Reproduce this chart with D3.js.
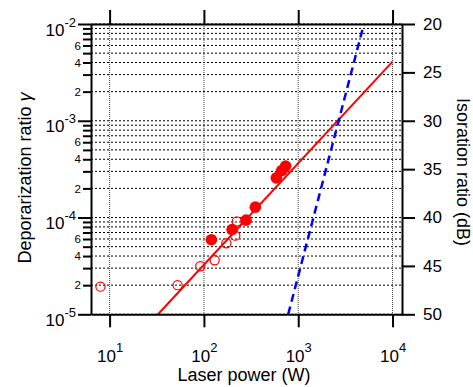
<!DOCTYPE html>
<html>
<head>
<meta charset="utf-8">
<script src="https://cdn.jsdelivr.net/npm/d3@7"></script>
<style>
  body { margin: 0; background: #fff; }
  svg { font-family: "Liberation Sans", Arial, sans-serif; }
</style>
</head>
<body>
<svg id="chart"></svg>
<script>
// Measured data (laser power in W, depolarization ratio)
const openPower = [8, 52.6, 91.6, 130, 173, 215, 224];
const openRatio = [1.93e-5, 2.0e-5, 3.14e-5, 3.62e-5, 5.42e-5, 6.5e-5, 9.1e-5];
const filledPower = [120, 199, 280, 351, 586, 667, 735];
const filledRatio = [5.9e-5, 7.5e-5, 9.4e-5, 1.28e-4, 2.57e-4, 3.05e-4, 3.41e-4];

// Fit line (red) and model line (blue dashed)
const fitPower = [32.6, 10000];
const fitRatio = [1e-5, 4.09e-3];
const modelPower = [783, 4970];
const modelRatio = [1e-5, 1e-2];

// Tick values
const xMajor = [10, 100, 1000, 10000];
const yDecades = [-5, -4, -3, -2];
const yMinorLabels = [2, 4, 6];
const dbTicks = [20, 25, 30, 35, 40, 45, 50];

const width = 473;
const height = 387;
const plotLeft = 91, plotRight = 402, plotTop = 24, plotBottom = 314.3;

const svg = d3.select("#chart").attr("width", width).attr("height", height);

const x = d3.scaleLog().domain([6.35, 12600]).range([plotLeft, plotRight]);
const y = d3.scaleLog().domain([1e-5, 1e-2]).range([plotBottom, plotTop]);
const yDb = d3.scaleLinear().domain([20, 50]).range([plotTop, plotBottom]);

// all y ticks 1..9 x decade
const yTicks = [];
yDecades.forEach((e) => {
  for (let k = 1; k <= 9; k++) {
    const v = k * Math.pow(10, e);
    if (v <= 1.0001e-2) yTicks.push(v);
  }
});
const isMajor = (v) => Math.abs(Math.log10(v) - Math.round(Math.log10(v))) < 1e-6;
const mantissa = (v) => Math.round(v / Math.pow(10, Math.floor(Math.log10(v) + 1e-9)));

// Grid
const grid = svg.append("g");
grid
  .selectAll("line.h")
  .data(yTicks)
  .join("line")
  .attr("class", "h")
  .attr("x1", plotLeft)
  .attr("x2", plotRight)
  .attr("y1", (d) => y(d))
  .attr("y2", (d) => y(d))
  .attr("stroke", "#000")
  .attr("stroke-width", 1)
  .attr("stroke-dasharray", "2,2");

grid
  .selectAll("line.v")
  .data(xMajor)
  .join("line")
  .attr("class", "v")
  .attr("x1", (d) => x(d))
  .attr("x2", (d) => x(d))
  .attr("y1", plotTop)
  .attr("y2", plotBottom)
  .attr("stroke", "#444")
  .attr("stroke-width", 1)
  .attr("stroke-dasharray", "1,1");

// Lines
const line = d3
  .line()
  .x((d) => x(d[0]))
  .y((d) => y(d[1]));

svg
  .append("path")
  .datum(d3.zip(fitPower, fitRatio))
  .attr("d", line)
  .attr("fill", "none")
  .attr("stroke", "#f00")
  .attr("stroke-width", 2);

svg
  .append("path")
  .datum(d3.zip(modelPower, modelRatio))
  .attr("d", line)
  .attr("fill", "none")
  .attr("stroke", "#00f")
  .attr("stroke-width", 2.5)
  .attr("stroke-dasharray", "8,5");

// Points
svg
  .append("g")
  .selectAll("circle")
  .data(d3.zip(openPower, openRatio))
  .join("circle")
  .attr("cx", (d) => x(d[0]))
  .attr("cy", (d) => y(d[1]))
  .attr("r", 4.6)
  .attr("fill", "none")
  .attr("stroke", "#f00")
  .attr("stroke-width", 1.2);

svg
  .append("g")
  .selectAll("circle")
  .data(d3.zip(filledPower, filledRatio))
  .join("circle")
  .attr("cx", (d) => x(d[0]))
  .attr("cy", (d) => y(d[1]))
  .attr("r", 5.8)
  .attr("fill", "#f00");

// Axes
function styleAxis(g) {
  g.select(".domain").attr("stroke-width", 2);
  g.selectAll(".tick line").attr("stroke-width", 2);
}

const xAxis = svg
  .append("g")
  .attr("transform", `translate(0,${plotBottom})`)
  .call(d3.axisBottom(x).tickValues(xMajor).tickSize(13).tickSizeOuter(0).tickFormat(""))
  .call(styleAxis);

xAxis
  .selectAll(".tick text")
  .attr("y", 48)
  .attr("dy", null)
  .attr("font-size", 17)
  .attr("fill", "#000")
  .each(function (d) {
    const t = d3.select(this);
    t.append("tspan").text("10");
    t.append("tspan").attr("dy", -10).attr("font-size", 13).text(Math.round(Math.log10(d)));
  });

svg
  .append("g")
  .attr("transform", `translate(0,${plotTop})`)
  .call(d3.axisTop(x).tickValues(xMajor).tickSize(14).tickSizeOuter(0).tickFormat(""))
  .call(styleAxis);

const yAxis = svg
  .append("g")
  .attr("transform", `translate(${plotLeft},0)`)
  .call(d3.axisLeft(y).tickValues(yTicks).tickSize(13).tickSizeOuter(0).tickFormat(""))
  .call(styleAxis);

yAxis.selectAll(".tick line").attr("x2", (d) => (isMajor(d) ? -13 : -8));

yAxis
  .selectAll(".tick text")
  .attr("fill", "#000")
  .each(function (d) {
    const t = d3.select(this);
    if (isMajor(d)) {
      t.attr("x", -15).attr("y", 11).attr("dy", null).attr("font-size", 17);
      t.append("tspan").text("10");
      t.append("tspan").attr("dy", -9).attr("font-size", 13).text(Math.round(Math.log10(d)));
    } else if (yMinorLabels.includes(mantissa(d))) {
      t.attr("x", -10).attr("font-size", 11.5).text(mantissa(d));
    }
  });

const rAxis = svg
  .append("g")
  .attr("transform", `translate(${plotRight},0)`)
  .call(d3.axisRight(yDb).tickValues(dbTicks).tickSize(13).tickPadding(8).tickSizeOuter(0))
  .call(styleAxis);

rAxis.selectAll(".tick text").attr("font-size", 17).attr("fill", "#000");

// Titles
svg
  .append("text")
  .attr("transform", `translate(31,178) rotate(-90)`)
  .attr("text-anchor", "middle")
  .attr("font-size", 18)
  .text("Deporarization ratio ")
  .append("tspan")
  .attr("font-style", "italic")
  .text("γ");

svg
  .append("text")
  .attr("x", 244)
  .attr("y", 381)
  .attr("text-anchor", "middle")
  .attr("font-size", 18)
  .text("Laser power (W)");

svg
  .append("text")
  .attr("transform", `translate(457,172) rotate(90)`)
  .attr("text-anchor", "middle")
  .attr("font-size", 18)
  .text("Isoration ratio (dB)");
</script>
</body>
</html>
